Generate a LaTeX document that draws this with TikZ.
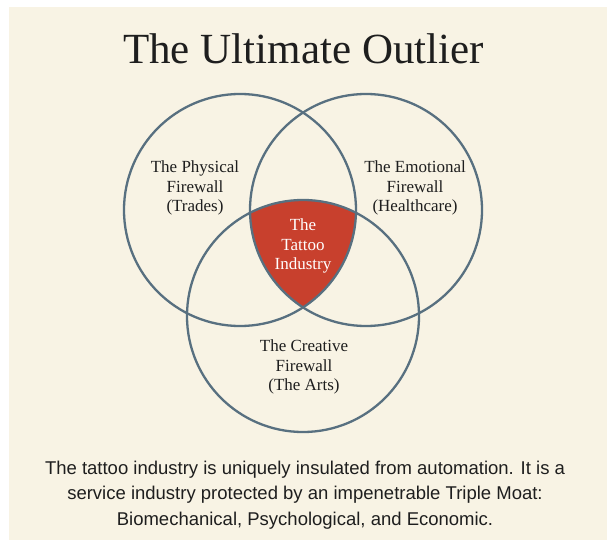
\documentclass[tikz,border=0pt]{standalone}
\usepackage{fontspec}
\setmainfont{Liberation Serif}
\setsansfont{Liberation Sans}
\usepackage{tikz}

\definecolor{paper}{HTML}{F8F3E4}
\definecolor{ring}{HTML}{587080}
\definecolor{tattoored}{HTML}{C8402D}
\definecolor{ink}{HTML}{1E1E1E}

\begin{document}
\begin{tikzpicture}[x=1pt,y=-1pt]
    \tikzstyle{firewall}=[draw=ring, line width=2.3pt]
    \tikzstyle{zone text}=[align=center, text=ink, font=\fontsize{17}{19.5}\selectfont]
    \tikzstyle{core text}=[zone text, text=white]
    \tikzstyle{title text}=[text=ink, font=\fontsize{43}{50}\selectfont]
    \tikzstyle{caption text}=[align=center, text=ink, font=\sffamily\fontsize{18.5}{25.5}\selectfont]

    % Page and background
    \useasboundingbox (0,0) rectangle (607,540);
    \fill[white] (0,0) rectangle (607,540);
    \fill[paper] (9,7) rectangle (607,540);

    % Centres of the three firewalls
    \coordinate (phys) at (240,210);
    \coordinate (emot) at (366,210);
    \coordinate (crea) at (303,316);

    % The common region of all three
    \begin{scope}
        \clip (phys) circle (116pt);
        \clip (emot) circle (116pt);
        \fill[tattoored] (crea) circle (116pt);
    \end{scope}

    % Draw the circles
    \foreach \c in {phys,emot,crea}
        \draw[firewall] (\c) circle (116pt);

    % Texts
    \node[title text, anchor=base] (title) at (303.5,64) {The Ultimate Outlier};
    \node[zone text] (physlbl) at (195,188) {The Physical\\Firewall\\(Trades)};
    \node[zone text] (emotlbl) at (415,188) {The Emotional\\Firewall\\(Healthcare)};
    \node[zone text] (crealbl) at (304,367) {The Creative\\Firewall\\(The Arts)};
    \node[core text] (core) at (303,246) {The\\Tattoo\\Industry};
    \node[caption text] (caption) at (305,495) {The tattoo industry is uniquely insulated from automation. It is a\\service industry protected by an impenetrable Triple Moat:\\Biomechanical, Psychological, and Economic.};
\end{tikzpicture}
\end{document}
